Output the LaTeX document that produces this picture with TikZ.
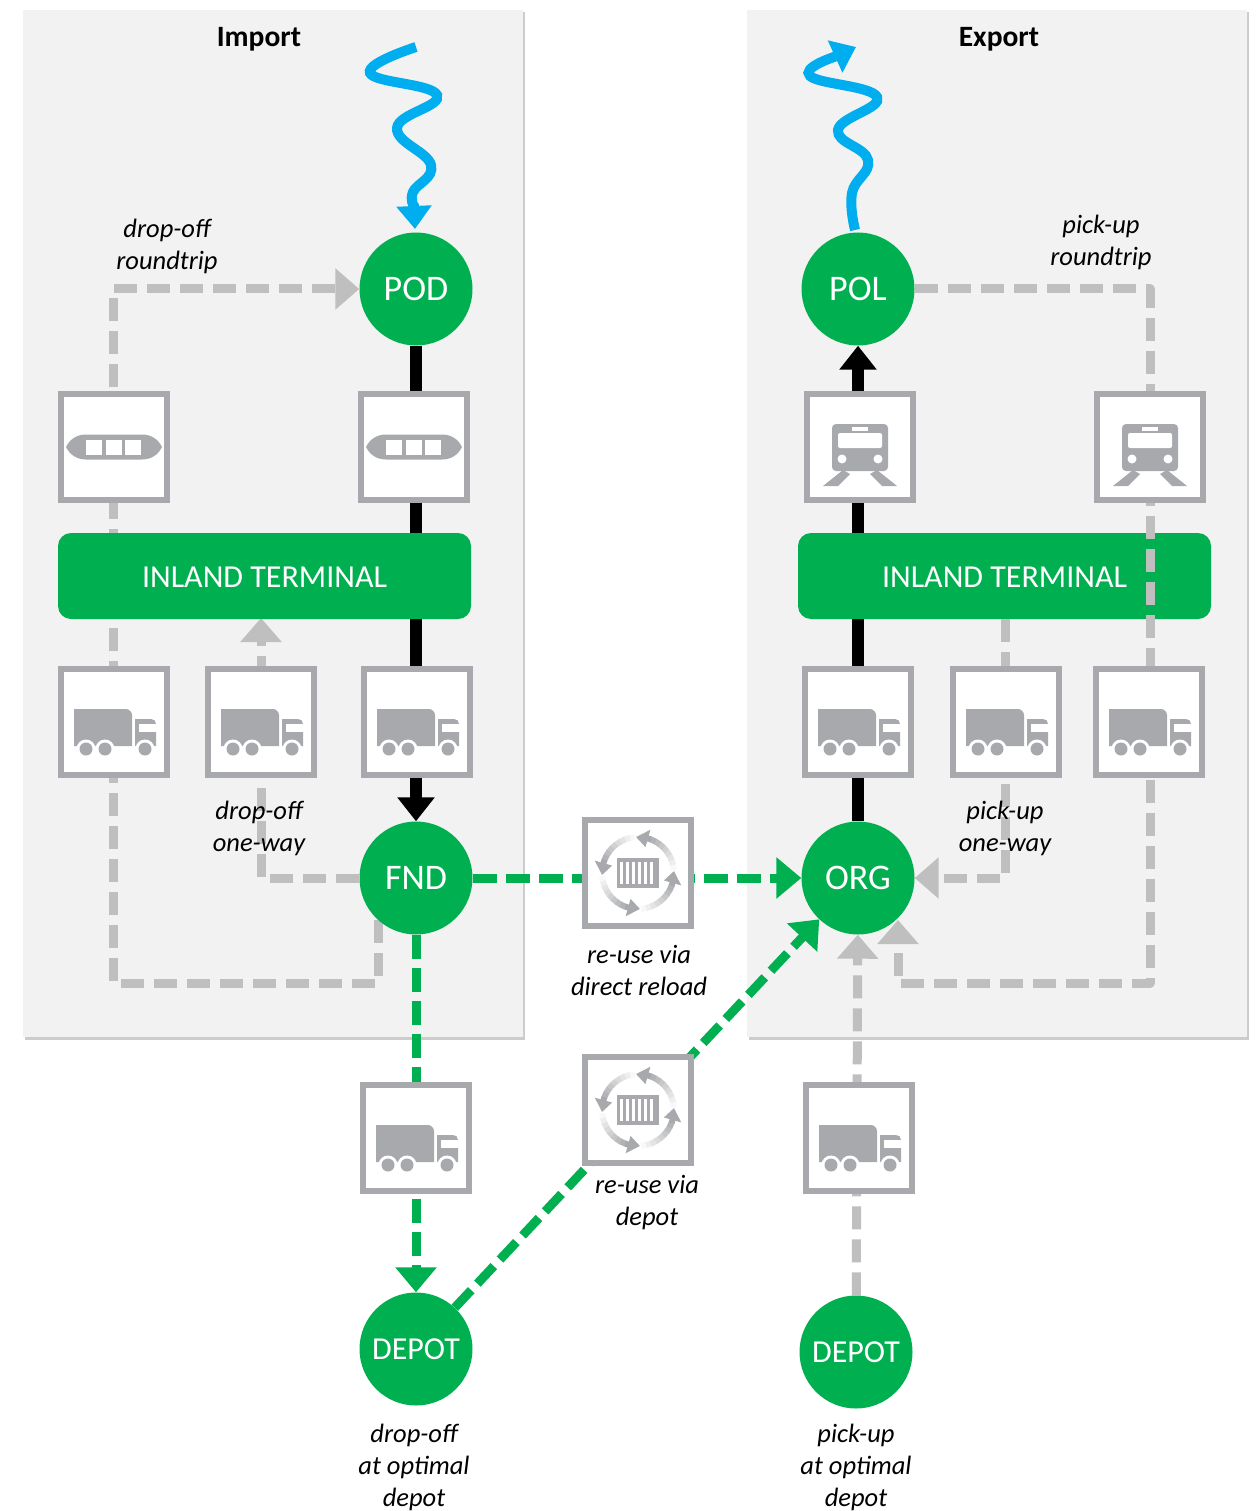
\documentclass[tikz,border=0pt]{standalone}
\usepackage{fontspec}
\setmainfont{Carlito}
\usetikzlibrary{arrows.meta}
\usetikzlibrary{calc}
\usetikzlibrary{shadows}

\definecolor{boxgreen}{HTML}{00B050}
\definecolor{wavecyan}{HTML}{00AEEF}
\definecolor{icongrey}{HTML}{A7A9AC}
\definecolor{flowgrey}{HTML}{BFBFBF}
\definecolor{panelgrey}{HTML}{F2F2F2}

\pgfdeclarelayer{panels}
\pgfdeclarelayer{boxes}
\pgfsetlayers{panels,main,boxes}

\tikzset{
    panel/.style={fill=panelgrey,draw=none,drop shadow={shadow xshift=1.5pt,shadow yshift=-2.5pt,opacity=.4}},
    hub/.style={circle,fill=boxgreen,text=white,minimum size=113pt,inner sep=0pt,font=\fontsize{36}{36}\selectfont},
    depot/.style={hub,font=\fontsize{32}{32}\selectfont},
    terminal/.style={rounded corners=13pt,fill=boxgreen,text=white,minimum width=413pt,minimum height=86pt,inner sep=0pt,text height=23pt,text depth=0pt,font=\fontsize{32}{32}\selectfont},
    iconbox/.style={draw=icongrey,fill=white,line width=6pt,minimum size=106pt,inner sep=0pt,outer sep=0pt},
    note/.style={align=center,font=\fontsize{26.5}{32}\selectfont\itshape,inner sep=0pt},
    heading/.style={font=\fontsize{29.5}{29.5}\selectfont\bfseries,inner sep=0pt},
    solidflow/.style={line width=12pt,-{Triangle[length=24pt,width=36pt]}},
    greyflow/.style={line width=9pt,line join=round,flowgrey,dash pattern=on 23pt off 10pt,-{Triangle[length=24pt,width=40pt]}},
    greenflow/.style={line width=9pt,boxgreen,dash pattern=on 24pt off 9pt,-{Triangle[length=25pt,width=40pt]}},
    wave/.style={line width=10pt,wavecyan,-{Triangle[length=23pt,width=34pt]}},
    pics/ship/.style={code={
        \fill[icongrey] (-48,0) .. controls (-44,-8) and (-37,-12.5) .. (-28,-12.5) -- (28,-12.5) .. controls (37,-12.5) and (44,-8) .. (48,0) .. controls (44,8) and (37,12.5) .. (28,12.5) -- (-28,12.5) .. controls (-37,12.5) and (-44,8) .. (-48,0) -- cycle;
        \fill[white] (-28,-7.5) rectangle (-12,8);
        \fill[white] (-8.5,-7.5) rectangle (7.5,8);
        \fill[white] (11,-7.5) rectangle (27,8);
    }},
    pics/train/.style={code={
        \fill[icongrey,rounded corners=4pt] (-28,-23) rectangle (28,24);
        \fill[white,rounded corners=2pt] (-22,-14) rectangle (22,1);
        \fill[white] (-8,-20) rectangle (8,-16);
        \fill[white] (-18,12) circle [radius=4.5];
        \fill[white] (18,12) circle [radius=4.5];
        \fill[icongrey] (-37,39) -- (-17,23) -- (-10,27) -- (-22,39) -- cycle;
        \fill[icongrey] (37,39) -- (17,23) -- (10,27) -- (22,39) -- cycle;
    }},
    pics/truck/.style={code={
        \fill[icongrey] (-40,24) -- (-40,-13) -- (12,-13) .. controls (15,-13) and (18,-10) .. (18,-7) -- (18,24) -- cycle;
        \fill[icongrey] (21,24) -- (21,-3) -- (37,-3) .. controls (40,-3) and (42,-1) .. (42,2) -- (42,24) -- cycle;
        \fill[white] (25,2) rectangle (42.5,10);
        \foreach \wx in {-28,-9,31}{
            \fill[white] (\wx,27) circle [radius=9.5];
            \fill[icongrey] (\wx,27) circle [radius=6.5];
        }
    }},
    pics/reload/.style={code={
        % Draw the container
        \fill[icongrey] (-21,-15) rectangle (21,15);
        \foreach \bx in {-18,-12,-6,0,6,12}
            \fill[white] (\bx,-11) rectangle ($(\bx,11)+(3.2,0)$);
        % Draw the four arrows round it
        \foreach \r in {0,90,180,270}{
            \foreach \s in {0,...,8}{
                \pgfmathsetmacro{\shade}{8+11.5*\s}
                \draw[line width=6pt,icongrey!\shade!white] ({\r-5-8*\s}:36) arc ({\r-5-8*\s}:{\r-14-8*\s}:36);
            }
            \fill[icongrey] ({\r-74}:45) -- ({\r-74}:27) -- ({\r-93}:36) -- cycle;
        }
    }},
}

\begin{document}
\begin{tikzpicture}[x=1pt,y=-1pt]
    \useasboundingbox (0,0) rectangle (1258,1511);

    % Draw the two grey panels
    \begin{pgfonlayer}{panels}
        \path[panel] (23,10) rectangle (523,1037);
        \path[panel] (747,10) rectangle (1247,1037);
    \end{pgfonlayer}

    \node[heading] (IMP) at (259,39) {Import};
    \node[heading] (EXP) at (999,39) {Export};

    % Draw the hubs and the icon boxes above all lines
    \begin{pgfonlayer}{boxes}
        \node[hub] (POD) at (416,289) {POD};
        \node[hub] (POL) at (858,289) {POL};
        \node[hub] (FND) at (416,878) {FND};
        \node[hub] (ORG) at (858,878) {ORG};
        \node[depot] (DPI) at (416,1349) {DEPOT};
        \node[depot] (DPE) at (856,1352) {DEPOT};

        \foreach \name/\x/\y in {SA/114/447,SB/414/447}{
            \node[iconbox] (\name) at (\x,\y) {};
            \pic at (\name) {ship};
        }
        \foreach \name/\x/\y in {RA/860/447,RB/1150/447}{
            \node[iconbox] (\name) at (\x,\y) {};
            \pic at (\name) {train};
        }
        \foreach \name/\x/\y in {TA/114/722,TB/261/722,TC/417/722,TD/858/722,TE/1006/722,TF/1149/722,TG/416/1138,TH/859/1138}{
            \node[iconbox] (\name) at (\x,\y) {};
            \pic at (\name) {truck};
        }
        \foreach \name/\x/\y in {CA/638/873,CB/638/1110}{
            \node[iconbox] (\name) at (\x,\y) {};
            \pic at (\name) {reload};
        }
    \end{pgfonlayer}

    % Corners of the grey routes
    \coordinate (A) at (378,920);
    \coordinate (B) at (378,983);
    \coordinate (C) at (113,983);
    \coordinate (D) at (113,289);
    \coordinate (E) at (261,878);
    \coordinate (F) at (1150,289);
    \coordinate (G) at (1150,983);
    \coordinate (H) at (898,983);
    \coordinate (J) at (898,920);
    \coordinate (K) at (1005,878);
    \coordinate (L) at (1005,619);
    \coordinate (M) at (261,618);

    % Draw the sea legs
    \draw[wave] plot[smooth,tension=.75] coordinates {(416,47) (370,73) (437,95) (397,128) (431,165) (413,192) (414,206)} -- (415,229);
    \draw[wave] plot[smooth,tension=.75] coordinates {(855,230) (852,193) (868,160) (838,130) (877,97) (810,76) (834,57)} -- (856,47);

    % Draw the solid routes
    \draw[solidflow] (POD) -- (FND);
    \draw[solidflow] (ORG) -- (POL);

    % Draw the import routes and the terminals over them
    \draw[greyflow] (A) -- (B) -- (C) -- (D) -- (POD);
    \draw[greyflow] (FND) -- (E) -- (M);
    \node[terminal] (TI) at (264.5,576) {INLAND TERMINAL};
    \node[terminal] (TX) at (1004.5,576) {INLAND TERMINAL};

    % Draw the export routes
    \draw[greyflow] (POL) -- (F) -- (G) -- (H) -- (J);
    \draw[greyflow] (L) -- (K) -- (ORG);
    \draw[greyflow] (DPE) -- (ORG);

    % Draw the re-use routes
    \draw[greenflow] (FND) -- (ORG);
    \draw[greenflow] (FND) -- (DPI);
    \draw[greenflow] (DPI) -- (ORG);

    % Draw the labels
    \node[note] (NA) at (167,246) {drop-off\\roundtrip};
    \node[note] (NB) at (1101,242) {pick-up\\roundtrip};
    \node[note] (NC) at (259,828) {drop-off\\one-way};
    \node[note] (ND) at (1005,828) {pick-up\\one-way};
    \node[note] (NE) at (639,970) {re-use via\\direct reload};
    \node[note] (NF) at (647,1203) {re-use via\\depot};
    \node[note] (NG) at (414,1467) {drop-off\\at optimal\\depot};
    \node[note] (NH) at (856,1467) {pick-up\\at optimal\\depot};
\end{tikzpicture}
\end{document}
